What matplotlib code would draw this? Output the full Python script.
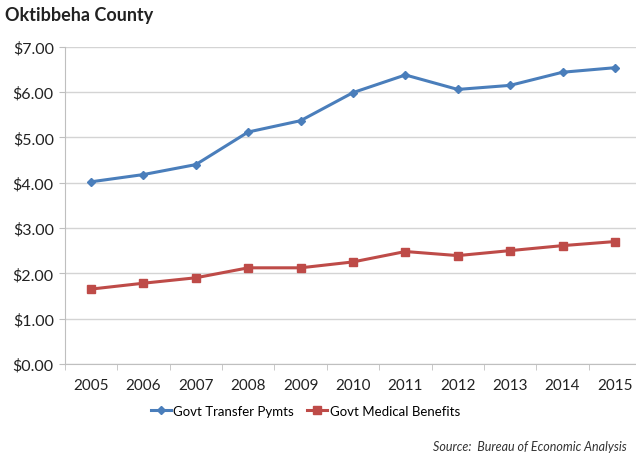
import matplotlib
matplotlib.use('Agg')
import matplotlib.pyplot as plt
from matplotlib.ticker import FuncFormatter
import numpy as np

years = ['2005', '2006', '2007', '2008', '2009', '2010', '2011', '2012', '2013', '2014', '2015']
transfer = [4.02, 4.18, 4.40, 5.12, 5.37, 5.99, 6.38, 6.06, 6.15, 6.44, 6.54]
medical = [1.65, 1.78, 1.90, 2.12, 2.12, 2.25, 2.48, 2.39, 2.50, 2.61, 2.70]

plt.rcParams['font.family'] = ['Lato', 'DejaVu Sans']

fig = plt.figure(figsize=(6.36, 4.56), dpi=100)
fig.set_facecolor('white')
ax = fig.add_axes([0.102, 0.2, 0.906, 0.695])

x = np.arange(len(years))
ax.plot(x, transfer, color='#4a7ebb', lw=2.2, marker='D', ms=4, label='Govt Transfer Pymts')
ax.plot(x, medical, color='#be4b48', lw=2.2, marker='s', ms=5.5, label='Govt Medical Benefits')

ax.set_xlim(-0.5, 10.5)
ax.set_ylim(0, 7)
ax.set_yticks(np.arange(0, 7.5, 1))
ax.yaxis.set_major_formatter(FuncFormatter(lambda v, p: '${:.2f}'.format(v)))
ax.set_xticks(x)
ax.set_xticklabels(years)
ax.set_xticks(np.arange(-0.5, 11, 1), minor=True)
ax.tick_params(axis='x', which='major', length=0, labelsize=11, pad=10, colors='#222222')
ax.tick_params(axis='x', which='minor', length=4, color='#bfbfbf')
ax.tick_params(axis='y', length=4, color='#bfbfbf', labelsize=11.5, pad=4, labelcolor='#222222')

ax.grid(axis='y', color='#d4d4d4', lw=1)
ax.set_axisbelow(True)
for s in ['top', 'right']:
    ax.spines[s].set_visible(False)
ax.spines['left'].set_color('#bfbfbf')
ax.spines['bottom'].set_color('#bfbfbf')

fig.text(0.008, 0.953, 'Oktibbeha County', fontsize=13, fontweight='bold', color='#222222')
fig.legend(loc='center', bbox_to_anchor=(0.48, 0.097), ncol=2, frameon=False,
           fontsize=9.5, handlelength=1.5, columnspacing=1.0, handletextpad=0.2)
fig.text(0.985, 0.012, 'Source:  Bureau of Economic Analysis', fontsize=9, style='italic',
         ha='right', color='#333333')

fig.savefig('out.png', dpi=100)
